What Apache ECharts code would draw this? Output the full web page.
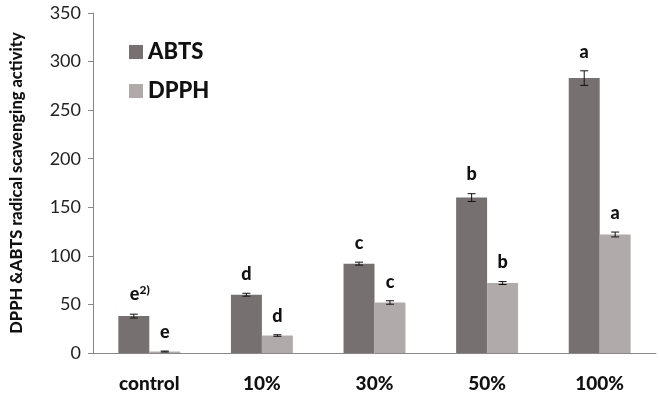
<!DOCTYPE html>
<html><head><meta charset="utf-8">
<script src="https://cdn.jsdelivr.net/npm/echarts@6/dist/echarts.min.js"></script>
<style>html,body{margin:0;padding:0;background:#fff}#c{width:660px;height:397px}</style>
</head><body><div id="c"></div>
<script>
const categories = ['control', '10%', '30%', '50%', '100%'];
const abts = [38, 60, 92, 160, 283];
const abtsErr = [2, 1.5, 1.5, 4, 7.5];
const abtsLetters = ['e', 'd', 'c', 'b', 'a'];
const dpph = [1.5, 18, 52, 72, 122];
const dpphErr = [0.5, 0.8, 1.8, 1.5, 2.5];
const dpphLetters = ['e', 'd', 'c', 'b', 'a'];
const yTicks = [0, 50, 100, 150, 200, 250, 300, 350];

const FONT = 'Lato, "Open Sans", sans-serif';
const BAR_FRAC = 0.275;

function errSeries(name, vals, errs, letters, side) {
  return {
    type: 'custom',
    name: name + '_err',
    z: 5,
    data: vals.map((v, i) => [i, v, errs[i]]),
    renderItem: function (params, api) {
      const idx = api.value(0), v = api.value(1), e = api.value(2);
      const letter = letters[idx];
      const band = api.size([1, 0])[0];
      const bw = band * BAR_FRAC;
      const c = api.coord([idx, v]);
      const x = c[0] + side * bw / 2;
      const yt = api.coord([idx, v + e])[1];
      const yb = api.coord([idx, Math.max(v - e, 0)])[1];
      const cap = 4;
      const st = { stroke: '#111', lineWidth: 1 };
      const children = [
        { type: 'line', shape: { x1: x, y1: yt, x2: x, y2: yb }, style: st },
        { type: 'line', shape: { x1: x - cap, y1: yt, x2: x + cap, y2: yt }, style: st },
        { type: 'line', shape: { x1: x - cap, y1: yb, x2: x + cap, y2: yb }, style: st }
      ];
      const isSup = (side < 0 && idx === 0);
      children.push({
        type: 'text',
        style: {
          x: isSup ? x + 6 : x, y: yt - 10,
          text: isSup ? '{b|' + letter + '}{s|2)}' : letter,
          align: 'center', verticalAlign: 'bottom',
          fill: '#111',
          font: '900 18px ' + FONT,
          rich: {
            b: { fontSize: 18, fontWeight: 900, fontFamily: FONT, color: '#111' },
            s: { fontSize: 12, fontWeight: 900, fontFamily: FONT, color: '#111', verticalAlign: 'top', padding: [0, 0, 8, 0] }
          }
        }
      });
      return { type: 'group', children: children };
    }
  };
}

const chart = echarts.init(document.getElementById('c'));
chart.setOption({
  animation: false,
  backgroundColor: '#fff',
  grid: { left: 91, right: 4, top: 13, bottom: 44 },
  legend: {
    orient: 'vertical', left: 124, top: 36,
    data: ['ABTS', 'DPPH'],
    icon: 'rect', itemWidth: 14, itemHeight: 14, itemGap: 17,
    textStyle: { fontFamily: FONT, fontWeight: 900, fontSize: 22, color: '#111' }
  },
  xAxis: {
    type: 'category', data: categories,
    axisLine: { lineStyle: { color: '#888', width: 1 } },
    axisTick: { show: false },
    axisLabel: { fontFamily: FONT, fontWeight: 900, fontSize: 19, color: '#111', margin: 21 }
  },
  yAxis: {
    type: 'value', min: yTicks[0], max: yTicks[yTicks.length - 1], interval: 50,
    name: 'DPPH &ABTS radical scavenging activity',
    nameLocation: 'middle', nameGap: 68,
    nameTextStyle: { fontFamily: FONT, fontWeight: 900, fontSize: 16.5, color: '#111' },
    axisLine: { show: true, lineStyle: { color: '#888' } },
    axisTick: { show: true, inside: false, length: 5, lineStyle: { color: '#888' } },
    splitLine: { show: false },
    axisLabel: { fontFamily: FONT, fontSize: 18, color: '#222', margin: 12 }
  },
  series: [
    { name: 'ABTS', type: 'bar', data: abts, barWidth: (BAR_FRAC * 100) + '%', barGap: '0%',
      itemStyle: { color: '#767170' } },
    { name: 'DPPH', type: 'bar', data: dpph, barWidth: (BAR_FRAC * 100) + '%', barGap: '0%',
      itemStyle: { color: '#b0abaa' } },
    errSeries('ABTS', abts, abtsErr, abtsLetters, -1),
    errSeries('DPPH', dpph, dpphErr, dpphLetters, 1)
  ]
});
</script></body></html>
